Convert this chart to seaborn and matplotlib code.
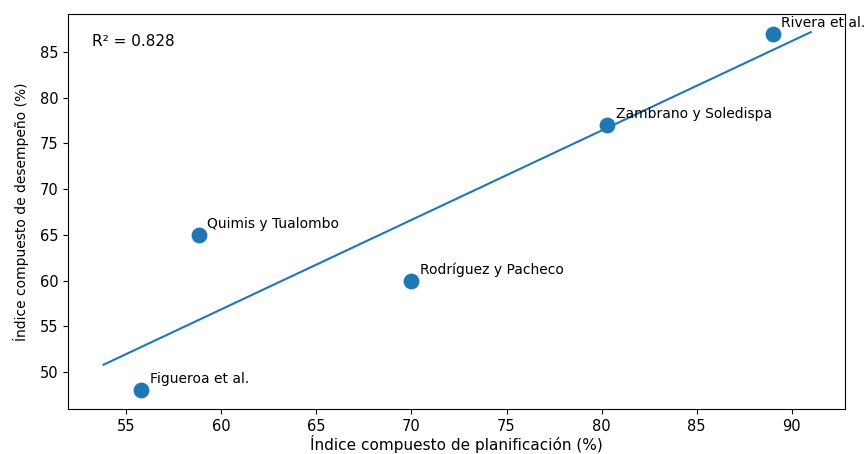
import numpy as np
import pandas as pd
import matplotlib
matplotlib.use("Agg")
import matplotlib.pyplot as plt
import seaborn as sns

# datos por estudio
estudios = ["Figueroa et al.", "Quimis y Tualombo", "Rodríguez y Pacheco",
            "Zambrano y Soledispa", "Rivera et al."]
planificacion = [55.8, 58.8, 70.0, 80.3, 89.0]
desempeno = [48, 65, 60, 77, 87]

df = pd.DataFrame({"estudio": estudios, "x": planificacion, "y": desempeno})

# ajuste lineal
pend, inter = np.polyfit(df["x"], df["y"], 1)
r2 = np.corrcoef(df["x"], df["y"])[0, 1] ** 2
xs = np.linspace(df["x"].min() - 2, df["x"].max() + 2, 50)
linea = pd.DataFrame({"x": xs, "y": pend * xs + inter})

fig = plt.figure(figsize=(8.64, 4.54), dpi=100)
ax = fig.add_axes([0.079, 0.099, 0.899, 0.870])

sns.scatterplot(data=df, x="x", y="y", s=130, color="#1f77b4",
                edgecolor="#1f77b4", linewidth=0, ax=ax, zorder=3)
sns.lineplot(data=linea, x="x", y="y", color="#1f77b4", linewidth=1.5, ax=ax)

for _, fila in df.iterrows():
    ax.annotate(fila["estudio"], (fila["x"], fila["y"]), xytext=(6, 5),
                textcoords="offset points", fontsize=10)

ax.text(0.03, 0.93, f"R² = {r2:.3f}", transform=ax.transAxes, fontsize=11,
        va="center")

ax.set_xlim(51.95, 92.8)
ax.set_ylim(45.95, 89.15)
ax.set_xlabel("Índice compuesto de planificación (%)", fontsize=11, labelpad=1)
ax.set_ylabel("Índice compuesto de desempeño (%)", fontsize=10, labelpad=7.5)
ax.tick_params(labelsize=10.5)

fig.savefig("out.png", dpi=100)
